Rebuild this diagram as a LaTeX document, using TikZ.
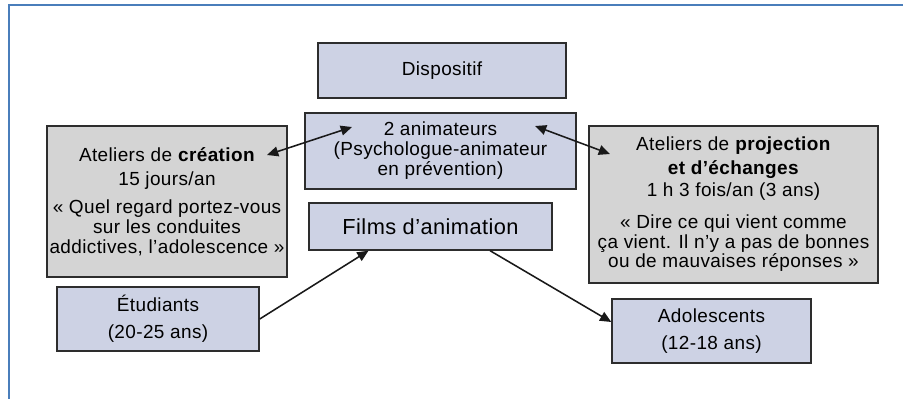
\documentclass[tikz,border=0pt]{standalone}
\usepackage{fontspec}
\setmainfont{Liberation Sans}[LetterSpace=2]
\usetikzlibrary{arrows.meta, positioning, calc}
\definecolor{framecol}{HTML}{4A7EBB}
\definecolor{boxblue}{RGB}{205, 210, 228}
\definecolor{boxgrey}{RGB}{212, 212, 212}
\definecolor{edgecol}{RGB}{45, 45, 45}

\begin{document}
\begin{tikzpicture}[
        >={Triangle[length=8pt, width=7pt]},
        bluebox/.style={rectangle, draw=edgecol, line width=1pt, fill=boxblue, inner sep=0pt, align=center, font=\fontsize{13.5}{14.2}\selectfont},
        greybox/.style={rectangle, draw=edgecol, line width=1pt, fill=boxgrey, inner sep=0pt, align=center, font=\fontsize{13.5}{14.2}\selectfont},
        arrow/.style={->, line width=1.1pt, color=black!90},
        dblarrow/.style={<->, line width=1.1pt, color=black!90},
        frameline/.style={draw=framecol, line width=1.5pt}
    ]
    \useasboundingbox (0, 0) rectangle (22.575, -9.975);

    %% --- Frame (top and left edges only) ---
    \draw[frameline] (22.575, -0.125) -- (0.225, -0.125) -- (0.225, -9.975);

    %% --- Centre column ---
    \node[bluebox, minimum width=6.2cm, minimum height=1.375cm] (dispo) at (11.05, -1.7625) {Dispositif};
    \node[bluebox, minimum width=6.775cm, minimum height=1.9cm] (anim) at (11.0125, -3.775)
        {2 animateurs\\(Psychologue-animateur\\en prévention)};
    \node[bluebox, minimum width=6.075cm, minimum height=1.175cm, font=\fontsize{15.5}{16}\selectfont] (films) at (10.7625, -5.6625)
        {Films d’animation};

    %% --- Workshops (left and right) ---
    \node[greybox, minimum width=6.0cm, minimum height=3.775cm] (crea) at (4.175, -5.0375)
        {Ateliers de \textbf{création}\\[2.8pt]
         15 jours/an\\[5.7pt]
         «~Quel regard portez-vous\\sur les conduites\\addictives, l’adolescence~»};
    \node[greybox, minimum width=7.225cm, minimum height=3.925cm] (proj) at (18.3375, -5.1125)
        {Ateliers de \textbf{projection}\\[2.8pt]
         \textbf{et d’échanges}\\[1pt]
         1 h 3 fois/an (3 ans)\\[8.5pt]
         «~Dire ce qui vient comme\\ça vient. Il n’y a pas de bonnes\\ou de mauvaises réponses~»};

    %% --- Audiences ---
    \node[bluebox, minimum width=5.05cm, minimum height=1.6cm] (etud) at (3.95, -7.975)
        {Étudiants\\[5pt](20-25 ans)};
    \node[bluebox, minimum width=4.975cm, minimum height=1.6cm] (ado) at (17.7875, -8.275)
        {Adolescents\\[5pt](12-18 ans)};

    %% --- Arrow ends inside the boxes ---
    \coordinate (creaTip) at (6.675, -3.875);
    \coordinate (animL)   at (8.8, -3.175);
    \coordinate (animR)   at (13.375, -3.15);
    \coordinate (projTip) at (15.25, -3.85);

    %% --- Links ---
    \draw[dblarrow] (creaTip) -- (animL);
    \draw[dblarrow] (animR) -- (projTip);
    \draw[arrow] (etud.east) -- ([xshift=-1.55cm]films.south);
    \draw[arrow] ([xshift=1.49cm]films.south) -- ([yshift=0.225cm]ado.west);

\end{tikzpicture}
\end{document}
